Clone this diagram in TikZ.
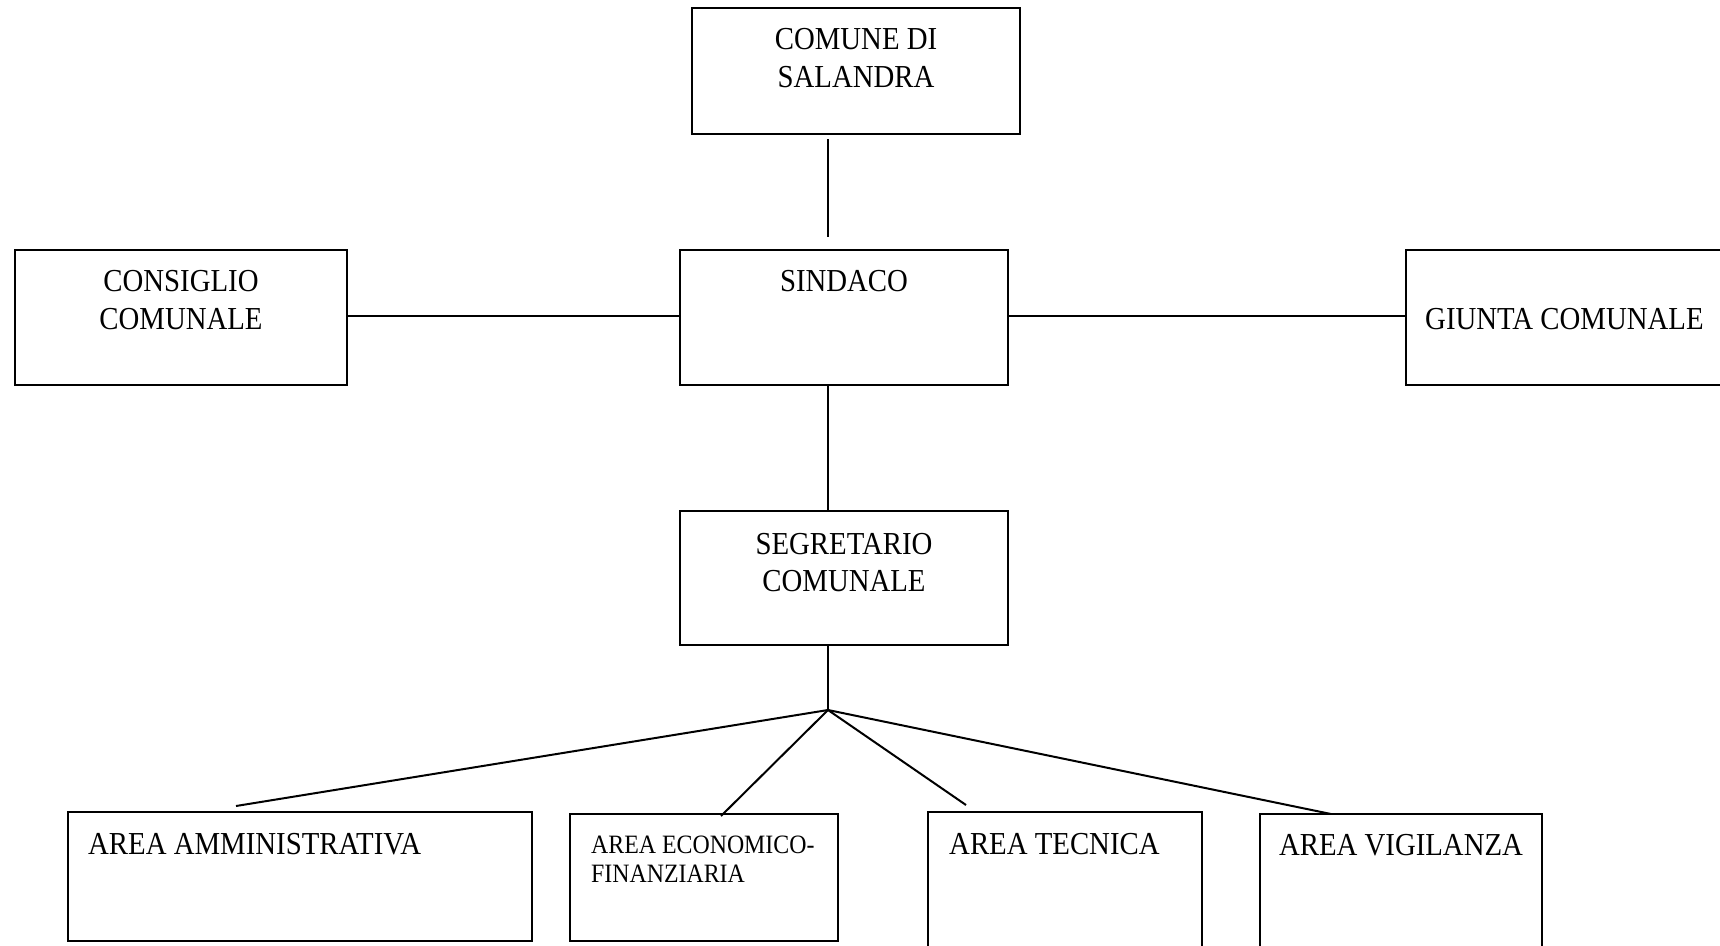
\documentclass[tikz,border=0pt]{standalone}
\usepackage{fontspec}
\setmainfont{Liberation Serif}[FakeStretch=0.9]
\begin{document}
\begin{tikzpicture}[x=1pt,y=-1pt,
  box/.style={draw=black, line width=2pt, rectangle, inner sep=0pt},
  lbl/.style={anchor=base, inner sep=0pt, font=\fontsize{32}{38}\selectfont},
  lbll/.style={anchor=base west, inner sep=0pt, font=\fontsize{32}{38}\selectfont},
  lbls/.style={anchor=base west, inner sep=0pt, font=\fontsize{26.5}{30}\selectfont},
  conn/.style={draw=black, line width=2pt}]
\fill[white] (0,0) rectangle (1720,945);
\useasboundingbox (0,0) rectangle (1720,945);
% boxes
\node[box, minimum width=328pt, minimum height=126pt] (comune) at (856,71) {};
\node[box, minimum width=332pt, minimum height=135pt] (consiglio) at (181,317.5) {};
\node[box, minimum width=328pt, minimum height=135pt] (sindaco) at (844,317.5) {};
\node[box, minimum width=354pt, minimum height=135pt] (giunta) at (1583,317.5) {};
\node[box, minimum width=328pt, minimum height=134pt] (seg) at (844,578) {};
\node[box, minimum width=464pt, minimum height=129pt] (adm) at (300,876.5) {};
\node[box, minimum width=268pt, minimum height=127pt] (econ) at (704,877.5) {};
\node[box, minimum width=274pt, minimum height=150pt] (tec) at (1065,887) {};
\node[box, minimum width=282pt, minimum height=150pt] (vig) at (1401,889) {};
% texts
\node[lbl] (t1) at (856,49) {COMUNE DI};
\node[lbl] (t2) at (856,87) {SALANDRA};
\node[lbl] (t3) at (181,291.5) {CONSIGLIO};
\node[lbl] (t4) at (181,329) {COMUNALE};
\node[lbl] (t5) at (844,291) {SINDACO};
\node[lbll] (t6) at (1425,329) {GIUNTA COMUNALE};
\node[lbl] (t7) at (844,554) {SEGRETARIO};
\node[lbl] (t8) at (844,591) {COMUNALE};
\node[lbll] (t9) at (88,854) {AREA AMMINISTRATIVA};
\node[lbls] (t10) at (591,853) {AREA ECONOMICO-};
\node[lbls] (t11) at (591,882) {FINANZIARIA};
\node[lbll] (t12) at (949,854) {AREA TECNICA};
\node[lbl] (t13) at (1401,855.5) {AREA VIGILANZA};
% connectors
\coordinate (j) at (828,710);
\coordinate (h) at (828,316);
\coordinate (ea) at (236,806);
\coordinate (ee) at (721,816);
\coordinate (et) at (966,805);
\coordinate (ev) at (1331,814);
\draw[conn] ([yshift=-4pt]comune.south -| j) -- ([yshift=12pt]sindaco.north -| j);
\draw[conn] (consiglio.east |- h) -- (sindaco.west |- h);
\draw[conn] (sindaco.east |- h) -- (giunta.west |- h);
\draw[conn] (sindaco.south -| j) -- (seg.north -| j);
\draw[conn] (seg.south -| j) -- (j);
\draw[conn] (j) -- (ea);
\draw[conn] (j) -- (ee);
\draw[conn] (j) -- (et);
\draw[conn] (j) -- (ev);
\end{tikzpicture}
\end{document}
